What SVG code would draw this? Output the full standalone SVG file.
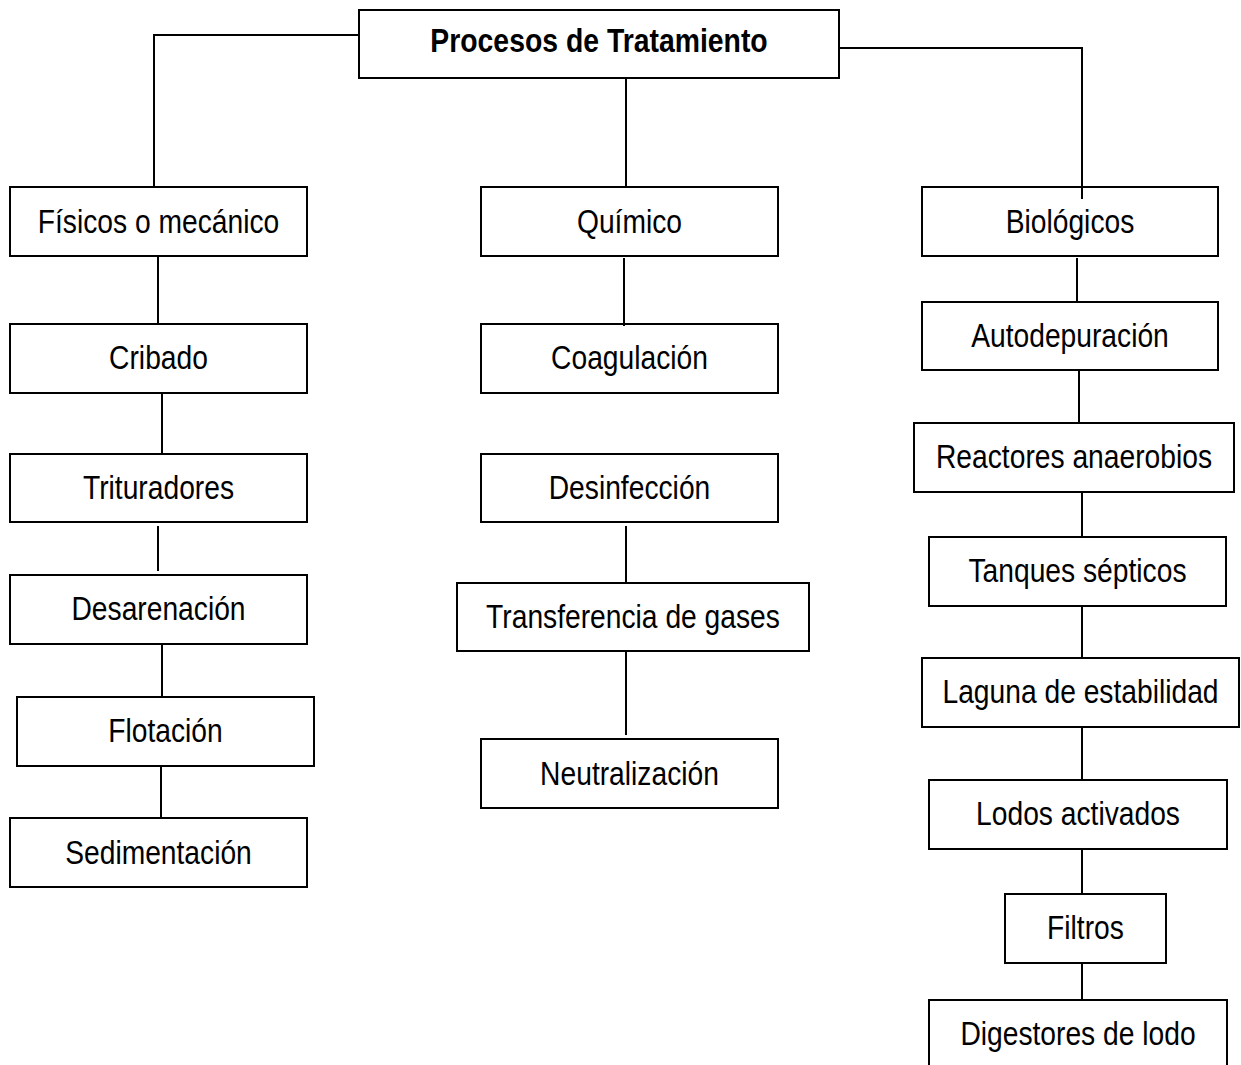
<svg xmlns="http://www.w3.org/2000/svg" width="1241" height="1065" viewBox="0 0 1241 1065">
<style>
rect.box{fill:#fff;stroke:#000;stroke-width:2}
text{font-family:"Liberation Sans",Arial,sans-serif;font-size:34px;fill:#000;text-anchor:middle}
text.title{font-weight:bold;font-size:33px}
#connectors polyline,#connectors line{fill:none;stroke:#000;stroke-width:2}
</style>
<rect width="1241" height="1065" fill="#fff"/>
<g id="n-title"><rect class="box" x="359" y="10" width="480" height="68"/><text class="title" transform="translate(599,52) scale(0.86,1)">Procesos de Tratamiento</text></g>
<g id="n-fisicos"><rect class="box" x="10" y="187" width="297" height="69"/><text transform="translate(158.5,233) scale(0.83,1)">Físicos o mecánico</text></g>
<g id="n-quimico"><rect class="box" x="481" y="187" width="297" height="69"/><text transform="translate(629.5,233) scale(0.83,1)">Químico</text></g>
<g id="n-biologicos"><rect class="box" x="922" y="187" width="296" height="69"/><text transform="translate(1070,233) scale(0.83,1)">Biológicos</text></g>
<g id="n-cribado"><rect class="box" x="10" y="324" width="297" height="69"/><text transform="translate(158.5,369) scale(0.83,1)">Cribado</text></g>
<g id="n-trituradores"><rect class="box" x="10" y="454" width="297" height="68"/><text transform="translate(158.5,499) scale(0.83,1)">Trituradores</text></g>
<g id="n-desarenacion"><rect class="box" x="10" y="575" width="297" height="69"/><text transform="translate(158.5,620) scale(0.83,1)">Desarenación</text></g>
<g id="n-flotacion"><rect class="box" x="17" y="697" width="297" height="69"/><text transform="translate(165.5,742) scale(0.83,1)">Flotación</text></g>
<g id="n-sedimentacion"><rect class="box" x="10" y="818" width="297" height="69"/><text transform="translate(158.5,864) scale(0.83,1)">Sedimentación</text></g>
<g id="n-coagulacion"><rect class="box" x="481" y="324" width="297" height="69"/><text transform="translate(629.5,369) scale(0.83,1)">Coagulación</text></g>
<g id="n-desinfeccion"><rect class="box" x="481" y="454" width="297" height="68"/><text transform="translate(629.5,499) scale(0.83,1)">Desinfección</text></g>
<g id="n-transferencia"><rect class="box" x="457" y="583" width="352" height="68"/><text transform="translate(633,628) scale(0.83,1)">Transferencia de gases</text></g>
<g id="n-neutralizacion"><rect class="box" x="481" y="739" width="297" height="69"/><text transform="translate(629.5,785) scale(0.83,1)">Neutralización</text></g>
<g id="n-autodepuracion"><rect class="box" x="922" y="302" width="296" height="68"/><text transform="translate(1070,347) scale(0.83,1)">Autodepuración</text></g>
<g id="n-reactores"><rect class="box" x="914" y="423" width="320" height="69"/><text transform="translate(1074,468) scale(0.83,1)">Reactores anaerobios</text></g>
<g id="n-tanques"><rect class="box" x="929" y="537" width="297" height="69"/><text transform="translate(1077.5,582) scale(0.83,1)">Tanques sépticos</text></g>
<g id="n-laguna"><rect class="box" x="922" y="658" width="317" height="69"/><text transform="translate(1080.5,703) scale(0.83,1)">Laguna de estabilidad</text></g>
<g id="n-lodos"><rect class="box" x="929" y="780" width="298" height="69"/><text transform="translate(1078,825) scale(0.83,1)">Lodos activados</text></g>
<g id="n-filtros"><rect class="box" x="1005" y="894" width="161" height="69"/><text transform="translate(1085.5,939) scale(0.83,1)">Filtros</text></g>
<g id="n-digestores"><rect class="box" x="929" y="1000" width="298" height="75"/><text transform="translate(1078,1045) scale(0.83,1)">Digestores de lodo</text></g>
<g id="connectors">
<polyline points="359,35 154,35 154,187"/>
<polyline points="839,48 1082,48 1082,199"/>
<line x1="626" y1="78" x2="626" y2="187"/>
<line x1="158" y1="256" x2="158" y2="324"/>
<line x1="162" y1="393" x2="162" y2="454"/>
<line x1="158" y1="526" x2="158" y2="571"/>
<line x1="162" y1="644" x2="162" y2="697"/>
<line x1="161" y1="766" x2="161" y2="818"/>
<line x1="624" y1="258" x2="624" y2="326"/>
<line x1="626" y1="526" x2="626" y2="583"/>
<line x1="626" y1="651" x2="626" y2="735"/>
<line x1="1077" y1="258" x2="1077" y2="303"/>
<line x1="1079" y1="370" x2="1079" y2="423"/>
<line x1="1082" y1="492" x2="1082" y2="537"/>
<line x1="1082" y1="606" x2="1082" y2="658"/>
<line x1="1082" y1="727" x2="1082" y2="780"/>
<line x1="1082" y1="849" x2="1082" y2="894"/>
<line x1="1082" y1="963" x2="1082" y2="1000"/>
</g>
</svg>
